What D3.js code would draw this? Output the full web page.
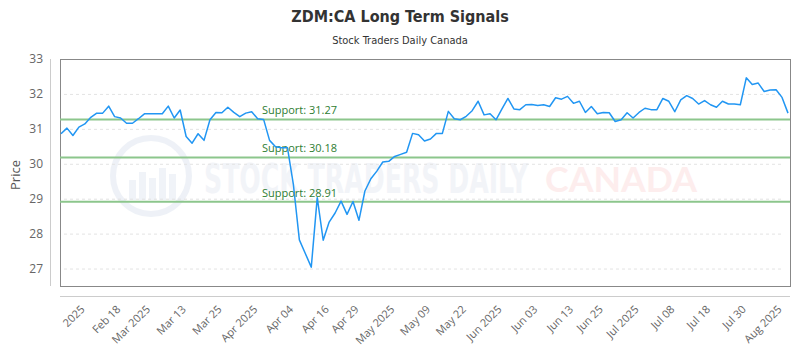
<!DOCTYPE html>
<html>
<head>
<meta charset="utf-8">
<script src="https://cdn.jsdelivr.net/npm/d3@7/dist/d3.min.js"></script>
<style>
html,body{margin:0;padding:0;background:#fff;}
svg{display:block;}
</style>
</head>
<body>
<svg id="chart" width="800" height="350"></svg>
<script>
// ---- data ----
const prices = [
30.86,31.02,30.81,31.05,31.14,31.33,31.45,31.45,31.65,31.35,
31.31,31.16,31.16,31.29,31.43,31.43,31.43,31.43,31.65,31.31,
31.54,30.78,30.59,30.86,30.67,31.26,31.47,31.46,31.62,31.47,
31.35,31.45,31.49,31.29,31.27,30.67,30.49,30.46,30.46,29.40,
27.82,27.43,27.04,29.03,27.81,28.33,28.59,28.93,28.55,28.92,
28.38,29.22,29.57,29.79,30.05,30.07,30.21,30.27,30.33,30.87,
30.83,30.65,30.71,30.87,30.87,31.50,31.29,31.26,31.36,31.52,
31.79,31.40,31.43,31.26,31.57,31.87,31.57,31.55,31.69,31.70,
31.67,31.69,31.64,31.89,31.85,31.93,31.73,31.79,31.47,31.64,
31.43,31.47,31.46,31.21,31.26,31.46,31.31,31.47,31.59,31.55,
31.55,31.87,31.79,31.49,31.83,31.95,31.87,31.71,31.81,31.69,
31.62,31.79,31.71,31.71,31.69,32.46,32.27,32.31,32.07,32.11,
32.12,31.90,31.45
];
const tickLabels = ["2025","Feb 18","Mar 2025","Mar 13","Mar 25","Apr 2025","Apr 04","Apr 16","Apr 29","May 2025","May 09","May 22","Jun 2025","Jun 03","Jun 13","Jun 25","Jul 2025","Jul 08","Jul 18","Jul 30","Aug 2025"];
const tickIndex = [4,10,15,21,27,33,39,45,50,56,62,68,74,80,86,91,97,103,109,115,121];
const yTicks = [27,28,29,30,31,32,33];
const supports = [31.27,30.18,28.91];
const title = "ZDM:CA Long Term Signals";
const subtitle = "Stock Traders Daily Canada";

// ---- layout ----
const svg = d3.select("#chart");
const plot = {left:60, right:790, top:59, bottom:286};
const x = d3.scaleLinear().domain([0, prices.length-1]).range([61, 788]);
const y = d3.scaleLinear().domain([26.5, 33]).range([plot.bottom, plot.top]);

// titles
svg.append("text").attr("x",400).attr("y",22).attr("text-anchor","middle")
  .attr("font-family","'DejaVu Sans Condensed','DejaVu Sans',sans-serif").attr("font-weight","bold")
  .attr("font-size",16).attr("fill","#333").text(title);
svg.append("text").attr("x",400).attr("y",44).attr("text-anchor","middle")
  .attr("font-family","'DejaVu Sans Condensed','DejaVu Sans',sans-serif")
  .attr("font-size",11).attr("fill","#333").text(subtitle);

// watermark
const wm = svg.append("g").attr("opacity",0.4);
wm.append("circle").attr("cx",151).attr("cy",176).attr("r",38)
  .attr("fill","none").attr("stroke","#d5deec").attr("stroke-width",6);
[[-22,20],[-12,28],[-2,22],[8,32],[18,26]].forEach(([dx,h])=>{
  wm.append("rect").attr("x",151+dx).attr("y",200-h).attr("width",7).attr("height",h).attr("fill","#dbe3ef");
});
wm.append("text").attr("x",204).attr("y",193)
  .attr("font-family","'DejaVu Sans Condensed',sans-serif").attr("font-weight","bold")
  .attr("font-size",40).attr("fill","#dfe5ef").attr("textLength",324).attr("lengthAdjust","spacingAndGlyphs")
  .text("STOCK TRADERS DAILY");
wm.append("text").attr("x",545).attr("y",192)
  .attr("font-family","Lato,'Open Sans',sans-serif").attr("font-weight","bold")
  .attr("font-size",34).attr("fill","#fbd3d3").attr("textLength",152).attr("lengthAdjust","spacingAndGlyphs")
  .text("CANADA");

// gridlines
svg.append("g").selectAll("line").data(yTicks.filter(d=>d<33)).join("line")
  .attr("x1",64).attr("x2",784).attr("y1",d=>y(d)+0.5).attr("y2",d=>y(d)+0.5)
  .attr("stroke","#e3e3e3").attr("stroke-dasharray","3,3");

// frame
svg.append("rect").attr("x",plot.left+0.5).attr("y",plot.top+0.5)
  .attr("width",plot.right-plot.left).attr("height",plot.bottom-plot.top)
  .attr("fill","none").attr("stroke","#888");

// y axis line and labels
svg.append("line").attr("x1",50.5).attr("x2",50.5).attr("y1",plot.top).attr("y2",plot.bottom)
  .attr("stroke","#ccc");
const yAxis = d3.axisLeft(y).tickValues(yTicks).tickSize(0).tickPadding(0).tickFormat(d3.format("d"));
const yg = svg.append("g").attr("transform","translate(43,0)").call(yAxis);
yg.select(".domain").remove();
yg.selectAll("text").attr("font-family","'Open Sans',sans-serif").attr("font-size",12).attr("fill","#666");
svg.append("text").attr("transform","translate(20,175) rotate(-90)").attr("text-anchor","middle")
  .attr("font-family","'Open Sans',sans-serif").attr("font-size",13).attr("fill","#555").text("Price");

// x axis baseline
svg.append("line").attr("x1",60).attr("x2",790).attr("y1",296.5).attr("y2",296.5).attr("stroke","#ccc");
const xAxis = d3.axisBottom(x).tickValues(tickIndex).tickSize(0).tickFormat((d,i)=>tickLabels[i]);
const xg = svg.append("g").attr("transform","translate(0,300)").call(xAxis);
xg.select(".domain").remove();
xg.selectAll("text").attr("font-family","'Open Sans',sans-serif").attr("font-size",11).attr("fill","#666")
  .attr("text-anchor","end").attr("dy",null).attr("y",0)
  .attr("transform","translate(0,10) rotate(-45)");

// support lines
const sg = svg.append("g");
sg.selectAll("line").data(supports).join("line")
  .attr("x1",plot.left).attr("x2",plot.right).attr("y1",d=>y(d)).attr("y2",d=>y(d))
  .attr("stroke","#8cc68c").attr("stroke-width",2);
sg.selectAll("text").data(supports).join("text")
  .attr("x",262).attr("y",d=>y(d)-5)
  .attr("font-family","'Open Sans',sans-serif").attr("font-size",11).attr("fill","#2e7d32")
  .text(d=>"Support: "+d.toFixed(2));

// price line
const line = d3.line().x((d,i)=>x(i)).y(d=>y(d));
svg.append("path").datum(prices).attr("d",line).attr("fill","none")
  .attr("stroke","#2196f3").attr("stroke-width",1.5).attr("stroke-linejoin","round");
</script>
</body>
</html>
